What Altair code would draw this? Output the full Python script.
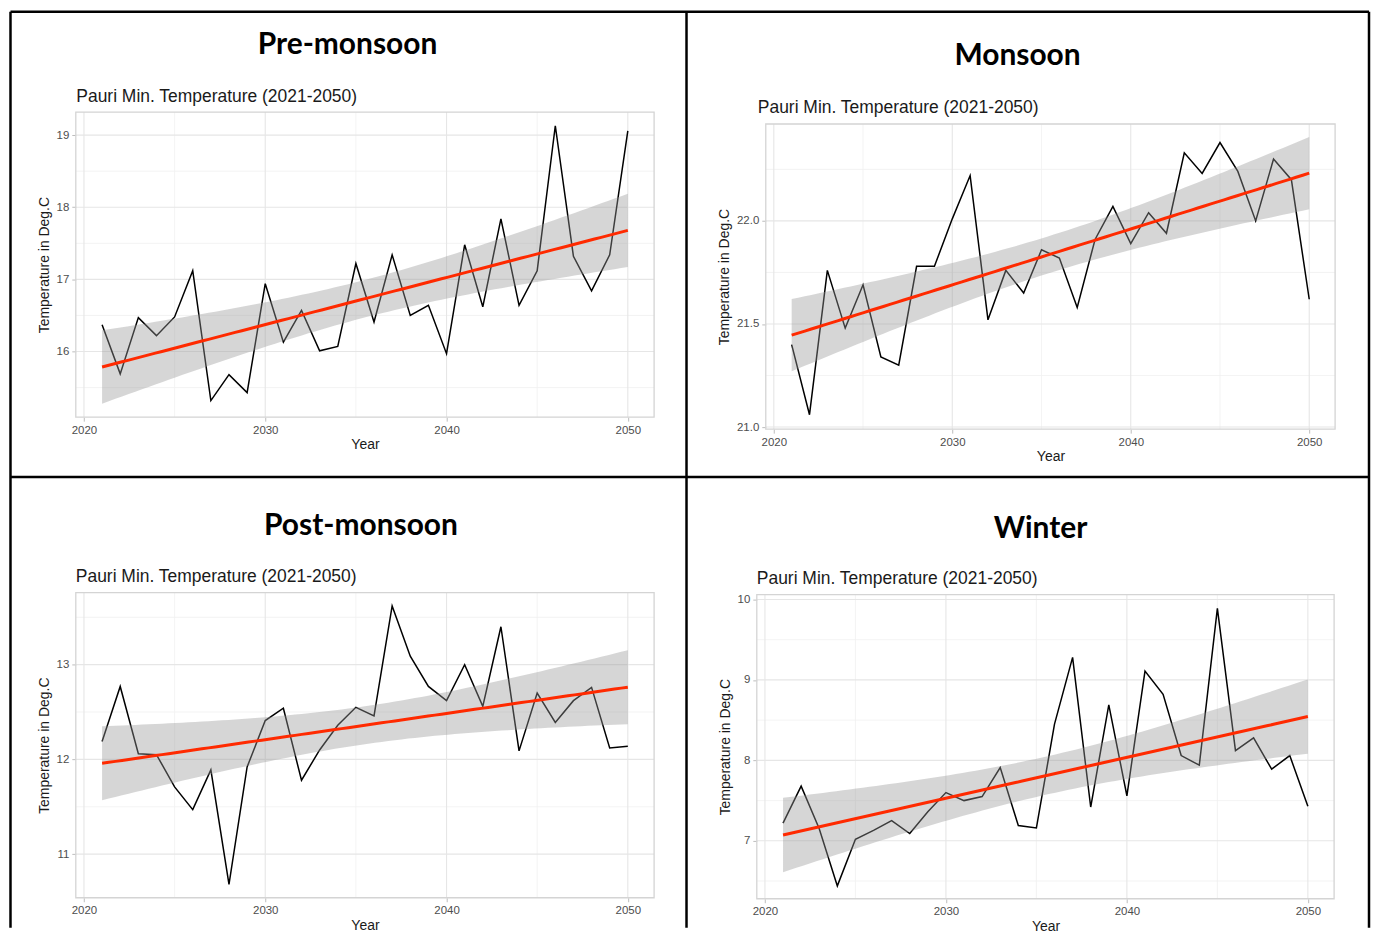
import altair as alt
import numpy as np
import pandas as pd

# ---------------- data ----------------
years = list(range(2021, 2051))

pre_monsoon = [16.37, 15.69, 16.47, 16.22, 16.48, 17.12, 15.32, 15.68, 15.43, 16.94,
               16.13, 16.57, 16.01, 16.07, 17.22, 16.41, 17.34, 16.50, 16.64, 15.97,
               17.48, 16.62, 17.84, 16.64, 17.12, 19.13, 17.32, 16.84, 17.34, 19.06]
monsoon = [21.40, 21.06, 21.76, 21.48, 21.69, 21.34, 21.30, 21.78, 21.78, 22.01,
           22.22, 21.52, 21.76, 21.65, 21.86, 21.82, 21.58, 21.91, 22.07, 21.89,
           22.04, 21.94, 22.33, 22.23, 22.38, 22.24, 22.00, 22.30, 22.20, 21.62]
post_monsoon = [12.19, 12.77, 12.06, 12.05, 11.71, 11.47, 11.89, 10.68, 11.92, 12.41,
                12.54, 11.78, 12.10, 12.36, 12.55, 12.46, 13.62, 13.09, 12.77, 12.62,
                13.00, 12.56, 13.40, 12.09, 12.70, 12.39, 12.62, 12.76, 12.12, 12.14]
winter = [7.22, 7.68, 7.15, 6.44, 7.02, 7.13, 7.25, 7.09, 7.36, 7.60,
          7.50, 7.55, 7.91, 7.19, 7.16, 8.45, 9.28, 7.42, 8.69, 7.56,
          9.11, 8.82, 8.06, 7.94, 9.89, 8.12, 8.28, 7.89, 8.06, 7.43]

x_major = [2020, 2030, 2040, 2050]
x_minor = [2025, 2035, 2045]
x_domain = [2019.55, 2051.45]

pre_y_major = [16, 17, 18, 19]
pre_y_minor = [15.5, 16.5, 17.5, 18.5]
pre_y_domain = [15.09, 19.32]

mon_y_major = [21.0, 21.5, 22.0]
mon_y_minor = [21.25, 21.75, 22.25]
mon_y_domain = [20.99, 22.47]

post_y_major = [11, 12, 13]
post_y_minor = [11.5, 12.5, 13.5]
post_y_domain = [10.54, 13.76]

win_y_major = [7, 8, 9, 10]
win_y_minor = [6.5, 7.5, 8.5, 9.5]
win_y_domain = [6.28, 10.06]

SUBTITLE = "Pauri Min. Temperature (2021-2050)"
X_TITLE = "Year"
Y_TITLE = "Temperature in Deg.C"

# ---------------- styling ----------------
GRID_MAJOR = "#e6e6e6"
GRID_MINOR = "#f0f0f0"
FRAME = "#d4d4d4"
RED = "#ff2a00"
T975 = 2.0484  # Student t 97.5% quantile, 28 degrees of freedom


def smooth(vals):
    """Linear model fit with 95% confidence band (like geom_smooth(method='lm'))."""
    x = np.array(years, dtype=float)
    y = np.array(vals, dtype=float)
    b, a = np.polyfit(x, y, 1)
    resid = y - (a + b * x)
    n = len(x)
    s = np.sqrt((resid ** 2).sum() / (n - 2))
    xs = np.linspace(years[0], years[-1], 80)
    fit = a + b * xs
    se = s * np.sqrt(1.0 / n + (xs - x.mean()) ** 2 / ((x - x.mean()) ** 2).sum())
    return pd.DataFrame({"year": xs, "fit": fit, "lo": fit - T975 * se, "hi": fit + T975 * se})


def make_panel(name, vals, W, H, off, ydom, ymaj, ymin, fmt,
               head_x, head_y, sub_x, sub_y, extra=None):
    xs = alt.Scale(domain=x_domain, nice=False, zero=False)
    ys = alt.Scale(domain=ydom, nice=False, zero=False, range=[H, off])
    xax = alt.Axis(values=x_major, format="d", title=X_TITLE, titlePadding=2)
    yax = alt.Axis(values=ymaj, format=fmt, title=Y_TITLE, titlePadding=5)
    obs = pd.DataFrame({"year": years, "temp": vals})
    fit = smooth(vals)
    head_df = pd.DataFrame({"t": [name]})
    sub_df = pd.DataFrame({"t": [SUBTITLE]})

    line = alt.Chart(obs).mark_line(color="#000000", strokeWidth=1.5).encode(
        x=alt.X("year:Q", scale=xs, axis=xax),
        y=alt.Y("temp:Q", scale=ys, axis=yax))
    vmin = alt.Chart(pd.DataFrame({"year": x_minor})).mark_rule(
        color=GRID_MINOR, strokeWidth=0.8).encode(
        x=alt.X("year:Q", scale=xs, axis=xax), y=alt.value(off), y2=alt.value(H))
    vmaj = alt.Chart(pd.DataFrame({"year": x_major})).mark_rule(
        color=GRID_MAJOR, strokeWidth=1.1).encode(
        x=alt.X("year:Q", scale=xs, axis=xax), y=alt.value(off), y2=alt.value(H))
    hmin = alt.Chart(pd.DataFrame({"temp": ymin})).mark_rule(
        color=GRID_MINOR, strokeWidth=0.8).encode(
        y=alt.Y("temp:Q", scale=ys, axis=yax), x=alt.value(0), x2=alt.value(W))
    hmaj = alt.Chart(pd.DataFrame({"temp": ymaj})).mark_rule(
        color=GRID_MAJOR, strokeWidth=1.1).encode(
        y=alt.Y("temp:Q", scale=ys, axis=yax), x=alt.value(0), x2=alt.value(W))
    frame = alt.Chart(head_df).mark_rect(
        fillOpacity=0, stroke=FRAME, strokeWidth=1.3).encode(
        x=alt.value(0), x2=alt.value(W), y=alt.value(off), y2=alt.value(H))

    band = alt.Chart(fit).mark_area(color="#999999", opacity=0.4).encode(
        x=alt.X("year:Q", scale=xs, axis=xax),
        y=alt.Y("lo:Q", scale=ys, axis=yax),
        y2="hi:Q")
    trend = alt.Chart(fit).mark_line(color=RED, strokeWidth=3).encode(
        x=alt.X("year:Q", scale=xs, axis=xax),
        y=alt.Y("fit:Q", scale=ys, axis=yax))

    heading = alt.Chart(head_df).mark_text(
        font="Lato", fontWeight="bold", fontSize=30, align="center",
        baseline="alphabetic", color="#000000").encode(
        x=alt.value(head_x), y=alt.value(head_y), text="t:N")
    subtitle = alt.Chart(sub_df).mark_text(
        font="Liberation Sans", fontSize=17.5, align="left",
        baseline="alphabetic", color="#1a1a1a").encode(
        x=alt.value(sub_x), y=alt.value(sub_y), text="t:N")

    layers = [hmin, vmin, hmaj, vmaj, frame, line, band, trend, heading, subtitle]
    if extra:
        layers += extra
    return alt.layer(*layers).properties(width=W, height=H)


# black table-cell borders (drawn relative to the first panel's plot origin)
one = pd.DataFrame({"k": [0]})
BORDER_W = 2.5
B_LEFT, B_MID, B_RIGHT = -65.5, 612.5, 1297
B_TOP, B_HMID, B_BOTTOM = -100.5, 366, 818
borders = [
    alt.Chart(one).mark_rule(color="#000000", strokeWidth=BORDER_W).encode(
        x=alt.value(B_LEFT), y=alt.value(B_TOP), y2=alt.value(B_BOTTOM)),
    alt.Chart(one).mark_rule(color="#000000", strokeWidth=BORDER_W).encode(
        x=alt.value(B_MID), y=alt.value(B_TOP), y2=alt.value(B_BOTTOM)),
    alt.Chart(one).mark_rule(color="#000000", strokeWidth=BORDER_W).encode(
        x=alt.value(B_RIGHT), y=alt.value(B_TOP), y2=alt.value(B_BOTTOM)),
    alt.Chart(one).mark_rule(color="#000000", strokeWidth=BORDER_W).encode(
        y=alt.value(B_TOP), x=alt.value(B_LEFT), x2=alt.value(B_RIGHT)),
    alt.Chart(one).mark_rule(color="#000000", strokeWidth=BORDER_W).encode(
        y=alt.value(B_HMID), x=alt.value(B_LEFT), x2=alt.value(B_RIGHT)),
]

p1 = make_panel("Pre-monsoon", pre_monsoon, 580, 306, 0, pre_y_domain,
                pre_y_major, pre_y_minor, "d", 272.5, -58, 0.5, -10, extra=borders)
p2 = make_panel("Monsoon", monsoon, 571, 318, 12, mon_y_domain,
                mon_y_major, mon_y_minor, ".1f", 252.5, -47, -8, 0.7)
p3 = make_panel("Post-monsoon", post_monsoon, 580, 306, 0, post_y_domain,
                post_y_major, post_y_minor, "d", 286, -58, 0, -11)
p4 = make_panel("Winter", winter, 579, 307, 2, win_y_domain,
                win_y_major, win_y_minor, "d", 284.5, -55, 0, -9)

row1 = alt.hconcat(p1, p2, spacing=112, bounds="flush")
row2 = alt.hconcat(p3, p4, spacing=103, bounds="flush")

# nested rows report no height under flush bounds, so the row height (318)
# is included in the spacing between the two rows
chart = alt.vconcat(row1, row2, spacing=482, bounds="flush").properties(
    padding=0
).configure_view(
    stroke="transparent"
).configure_axis(
    grid=False,
    domain=False,
    ticks=True,
    tickColor="#bdbdbd",
    tickSize=4,
    tickWidth=1,
    labelPadding=3,
    labelFont="Liberation Sans",
    labelFontSize=11.5,
    labelColor="#4d4d4d",
    titleFont="Liberation Sans",
    titleFontSize=14,
    titleFontWeight="normal",
    titleColor="#1a1a1a",
)

chart.save("out.html", embed_options={"renderer": "svg", "actions": False})
